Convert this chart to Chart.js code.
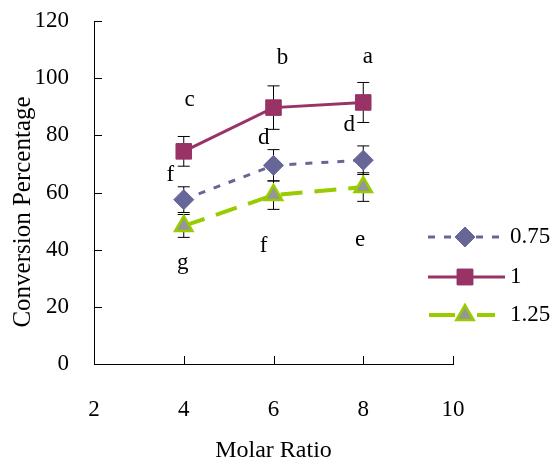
<!DOCTYPE html>
<html>
<head>
<meta charset="utf-8">
<script src="https://cdn.jsdelivr.net/npm/chart.js@4"></script>
<style>
  html, body { margin: 0; padding: 0; background: #fff; }
  #wrap { width: 551px; height: 467px; }
</style>
</head>
<body>
<div id="wrap"><canvas id="grafica" width="551" height="467"></canvas></div>
<script>
// datos
const molarRatio = [4, 6, 8];
const serieNombres = ["0.75", "1", "1.25"];
const conv075 = [57.5, 69.5, 71.3];
const conv1 = [74.4, 89.7, 91.5];
const conv125 = [48.3, 59.1, 61.9];
const err075 = [4.5, 5.5, 5.0];
const err1 = [5.2, 7.6, 7.0];
const err125 = [4.0, 5.0, 5.0];
const xTicks = [2, 4, 6, 8, 10];
const yTicks = [0, 20, 40, 60, 80, 100, 120];
const tituloY = "Conversion Percentage";
const tituloX = "Molar Ratio";

// letras de significancia
const letras = ["c", "b", "a", "f", "d", "d", "g", "f", "e"];
const letrasX = [4.13, 6.2, 8.1, 3.7, 5.78, 7.69, 3.98, 5.78, 7.93];
const letrasY = [92.4, 107, 107.5, 66, 79, 83.6, 35.5, 41.3, 43.5];

const serif = "'Liberation Serif', 'DejaVu Serif', serif";

const colores = ["#666699", "#993366", "#99CC00"];

function puntos(valores) {
    return molarRatio.map((x, i) => ({ x: x, y: valores[i] }));
}

const errores = [err075, err1, err125];

// barras de error
const barrasError = {
    id: "barrasError",
    beforeDatasetsDraw(chart) {
        const ctx = chart.ctx;
        const xs = chart.scales.x, ys = chart.scales.y;
        ctx.save();
        ctx.strokeStyle = "#000";
        ctx.lineWidth = 1;
        chart.data.datasets.forEach((ds, d) => {
            ds.data.forEach((p, i) => {
                const px = xs.getPixelForValue(p.x);
                const top = ys.getPixelForValue(p.y + errores[d][i]);
                const bot = ys.getPixelForValue(p.y - errores[d][i]);
                ctx.beginPath();
                ctx.moveTo(px, top); ctx.lineTo(px, bot);
                ctx.moveTo(px - 6, top); ctx.lineTo(px + 6, top);
                ctx.moveTo(px - 6, bot); ctx.lineTo(px + 6, bot);
                ctx.stroke();
            });
        });
        ctx.restore();
    }
};

// letras, marcas hacia dentro, titulo y leyenda
const extras = {
    id: "extras",
    afterDraw(chart) {
        const ctx = chart.ctx;
        const xs = chart.scales.x, ys = chart.scales.y;
        ctx.save();
        ctx.fillStyle = "#000";
        ctx.font = "23px " + serif;
        ctx.textAlign = "center";
        ctx.textBaseline = "middle";
        letras.forEach((l, i) => {
            ctx.fillText(l, xs.getPixelForValue(letrasX[i]), ys.getPixelForValue(letrasY[i]));
        });

        // titulo del eje y, algo desplazado hacia abajo como en la figura
        ctx.save();
        ctx.translate(23, 212);
        ctx.rotate(-Math.PI / 2);
        ctx.font = "25px " + serif;
        ctx.fillText(tituloY, 0, 0);
        ctx.restore();

        ctx.strokeStyle = "#000";
        ctx.lineWidth = 1;
        xTicks.forEach(t => {
            const px = Math.round(xs.getPixelForValue(t)) + 0.5;
            ctx.beginPath();
            ctx.moveTo(px, ys.bottom);
            ctx.lineTo(px, ys.bottom - 8);
            ctx.stroke();
        });
        yTicks.forEach(t => {
            const py = Math.round(ys.getPixelForValue(t)) + 0.5;
            ctx.beginPath();
            ctx.moveTo(xs.left, py);
            ctx.lineTo(xs.left + 8, py);
            ctx.stroke();
        });

        // leyenda
        const filas = [237, 277, 315];
        chart.data.datasets.forEach((ds, i) => {
            const y = filas[i];
            ctx.save();
            ctx.strokeStyle = ds.borderColor;
            ctx.lineWidth = ds.borderWidth;
            ctx.setLineDash(ds.borderDash || []);
            ctx.beginPath();
            if (i < 2) {
                ctx.moveTo(428, y); ctx.lineTo(505, y);
            } else {
                ctx.setLineDash([]);
                ctx.moveTo(429, y); ctx.lineTo(455, y);
                ctx.moveTo(477, y); ctx.lineTo(495, y);
            }
            ctx.stroke();
            ctx.restore();
            Chart.helpers.drawPoint(ctx, {
                pointStyle: ds.pointStyle,
                radius: ds.pointRadius,
                borderWidth: ds.pointBorderWidth
            }, 465, y);
            ctx.fillStyle = ds.pointBackgroundColor;
            ctx.strokeStyle = ds.pointBorderColor;
            ctx.lineWidth = ds.pointBorderWidth;
            ctx.fill();
            ctx.stroke();
            ctx.fillStyle = "#000";
            ctx.font = "23px " + serif;
            ctx.textAlign = "left";
            ctx.fillText(serieNombres[i], 510, y);
        });
        ctx.restore();
    }
};

new Chart(document.getElementById("grafica"), {
    type: "line",
    data: {
        datasets: [
            {
                label: serieNombres[0],
                data: puntos(conv075),
                borderColor: colores[0],
                borderWidth: 3,
                borderDash: [7, 9],
                pointStyle: "rectRot",
                pointRadius: 10,
                pointBackgroundColor: colores[0],
                pointBorderColor: colores[0],
                pointBorderWidth: 1
            },
            {
                label: serieNombres[1],
                data: puntos(conv1),
                borderColor: colores[1],
                borderWidth: 3,
                pointStyle: "rect",
                pointRadius: 11,
                pointBackgroundColor: colores[1],
                pointBorderColor: colores[1],
                pointBorderWidth: 1
            },
            {
                label: serieNombres[2],
                data: puntos(conv125),
                borderColor: colores[2],
                borderWidth: 4,
                borderDash: [22, 12],
                pointStyle: "triangle",
                pointRadius: 10,
                pointBackgroundColor: "#969696",
                pointBorderColor: colores[2],
                pointBorderWidth: 2.5
            }
        ]
    },
    options: {
        responsive: false,
        animation: false,
        layout: { padding: { left: 0, right: 98, top: 21, bottom: 0 } },
        plugins: { legend: { display: false }, tooltip: { enabled: false } },
        scales: {
            x: {
                type: "linear",
                min: 2,
                max: 10,
                afterBuildTicks: s => { s.ticks = xTicks.map(v => ({ value: v })); },
                afterFit: s => { s.height = 103; s.paddingLeft = 0; s.paddingRight = 0; },
                border: { display: true, color: "#000", width: 1 },
                grid: { display: false },
                ticks: { color: "#000", padding: 24, font: { family: serif, size: 23 } },
                title: {
                    display: true,
                    text: tituloX,
                    color: "#000",
                    padding: { top: 18, bottom: 2 },
                    font: { family: serif, size: 24 }
                }
            },
            y: {
                min: 0,
                max: 120,
                afterBuildTicks: s => { s.ticks = yTicks.map(v => ({ value: v })); },
                afterFit: s => { s.width = 94; s.paddingTop = 0; s.paddingBottom = 0; },
                border: { display: true, color: "#000", width: 1 },
                grid: { display: false },
                ticks: { color: "#000", padding: 17, font: { family: serif, size: 23 } },
                title: { display: false }
            }
        }
    },
    plugins: [barrasError, extras]
});
</script>
</body>
</html>
